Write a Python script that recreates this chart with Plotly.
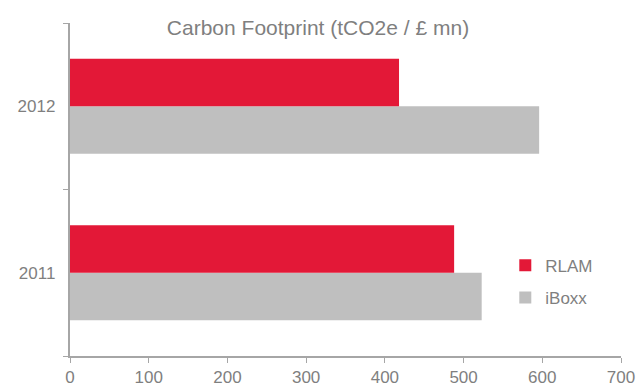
import plotly.graph_objects as go

years = ["2011", "2012"]
rlam = [488, 418]
iboxx = [523, 596]
x_ticks = [0, 100, 200, 300, 400, 500, 600, 700]

FONT = "Liberation Sans Narrow, Liberation Sans, Arial, sans-serif"
GREY_TEXT = "#7f7f7f"
AXIS = "#a6a6a6"

fig = go.Figure()
fig.add_trace(go.Bar(name="iBoxx", y=years, x=iboxx, orientation="h",
                     legendgroup="iboxx", legendrank=2,
                     marker=dict(color="#bfbfbf", line=dict(width=0))))
fig.add_trace(go.Bar(name="RLAM", y=years, x=rlam, orientation="h",
                     legendgroup="rlam", legendrank=1,
                     marker=dict(color="#e31837", line=dict(width=0))))

fig.update_layout(
    width=636, height=389,
    margin=dict(l=70, r=15, t=23, b=33),
    paper_bgcolor="white", plot_bgcolor="white",
    barmode="group", bargap=0.43, bargroupgap=0,
    title=dict(text="Carbon Footprint (tCO2e / £ mn)", x=0.5, xanchor="center",
               y=0.93, yanchor="middle",
               font=dict(family=FONT, size=21, color=GREY_TEXT)),
    font=dict(family=FONT, color=GREY_TEXT),
    legend=dict(x=0.79, y=0.325, xanchor="left", yanchor="top",
                traceorder="grouped", font=dict(size=17, color=GREY_TEXT),
                itemwidth=30, tracegroupgap=7, bgcolor="rgba(0,0,0,0)"),
    xaxis=dict(range=[0, 700], tickvals=x_ticks, showgrid=False, zeroline=False,
               automargin=False, ticklabeloverflow="allow",
               showline=True, linecolor=AXIS, linewidth=2,
               ticks="outside", ticklen=5, tickcolor=AXIS,
               tickfont=dict(size=17, color=GREY_TEXT, family=FONT)),
    yaxis=dict(type="category", showgrid=False, zeroline=False, automargin=False,
               showline=True, linecolor=AXIS, linewidth=1.5,
               ticks="outside", ticklen=5, tickcolor=AXIS, tickson="boundaries",
               tickfont=dict(size=17, color=GREY_TEXT, family=FONT),
               ticksuffix="  "),
)

fig.write_html("out.html")
